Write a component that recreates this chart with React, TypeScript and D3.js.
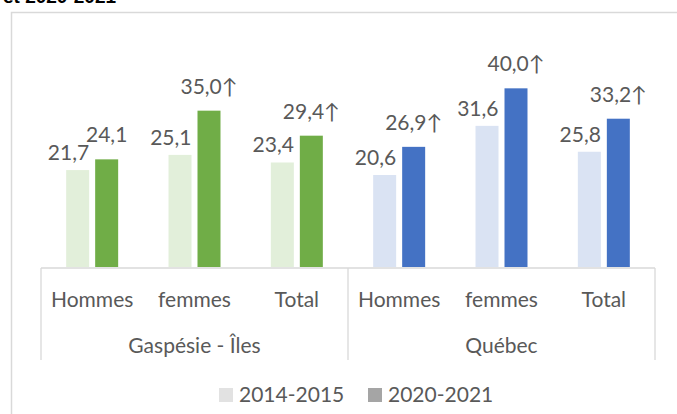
import * as d3 from "d3";

const categories = ["Hommes", "femmes", "Total"];
const groups = ["Gaspésie - Îles", "Québec"];
const seriesNames = ["2014-2015", "2020-2021"];

const gaspesie2014 = [21.7, 25.1, 23.4];
const gaspesie2020 = [24.1, 35.0, 29.4];
const quebec2014 = [20.6, 31.6, 25.8];
const quebec2020 = [26.9, 40.0, 33.2];
const gaspesieUp = [false, true, true];
const quebecUp = [true, true, true];

const WIDTH = 677;
const HEIGHT = 414;
const PLOT_LEFT = 41;
const PLOT_RIGHT = 655;
const BASELINE = 267;
const PLOT_TOP = 66;
const TEXT = "#595959";
const RULE = "#d9d9d9";
const FONT = "Lato, 'Open Sans', sans-serif";

const palette: Record<string, [string, string]> = {
  "Gaspésie - Îles": ["#e2efda", "#70ad47"],
  "Québec": ["#dae3f3", "#4472c4"],
};
const legendColors = ["#e2e2e2", "#a5a5a5"];

type Row = { group: string; category: string; key: string; before: number; after: number; up: boolean };

const rows: Row[] = [
  ...categories.map((c, i) => ({
    group: groups[0], category: c, key: `${groups[0]}|${c}`,
    before: gaspesie2014[i], after: gaspesie2020[i], up: gaspesieUp[i],
  })),
  ...categories.map((c, i) => ({
    group: groups[1], category: c, key: `${groups[1]}|${c}`,
    before: quebec2014[i], after: quebec2020[i], up: quebecUp[i],
  })),
];

const fmt = (v: number) => d3.format(".1f")(v).replace(".", ",");

export default function App() {
  const x0 = d3.scaleBand<string>().domain(rows.map((r) => r.key)).range([PLOT_LEFT, PLOT_RIGHT]);
  const x1 = d3
    .scaleBand<string>()
    .domain(seriesNames)
    .range([0, x0.bandwidth()])
    .paddingInner(0.207)
    .paddingOuter(0.868);
  const y = d3.scaleLinear().domain([0, 45]).range([BASELINE, PLOT_TOP]);
  const bw = x1.bandwidth();
  const groupWidth = x0.bandwidth() * categories.length;

  return (
    <>
      <style>{`body{margin:0}`}</style>
      <svg width={WIDTH} height={HEIGHT} style={{ display: "block", background: "#fff" }} fontFamily={FONT}>
        <text x={3} y={3} fontSize={19} fontWeight="bold" fill="#000" fontFamily="'Liberation Sans', sans-serif">
          et 2020-2021
        </text>
        <rect x={11.5} y={12.5} width={800} height={600} fill="none" stroke={RULE} strokeWidth={1.5} />

        {rows.map((r) => {
          const [light, dark] = palette[r.group];
          const xb = (x0(r.key) ?? 0) + (x1(seriesNames[0]) ?? 0);
          const xa = (x0(r.key) ?? 0) + (x1(seriesNames[1]) ?? 0);
          return (
            <g key={r.key}>
              <rect x={xb} y={y(r.before)} width={bw} height={BASELINE - y(r.before)} fill={light} />
              <rect x={xa} y={y(r.after)} width={bw} height={BASELINE - y(r.after)} fill={dark} />
              <text x={xb + bw} y={y(r.before) - 10} textAnchor="end" fontSize={21} fill={TEXT}>
                {fmt(r.before)}
              </text>
              <text x={xa + bw / 2} y={y(r.after) - 17} textAnchor="middle" fontSize={21} fill={TEXT}>
                {fmt(r.after) + (r.up ? "↑" : "")}
              </text>
            </g>
          );
        })}

        <line x1={PLOT_LEFT} x2={PLOT_RIGHT} y1={BASELINE + 1} y2={BASELINE + 1} stroke={RULE} strokeWidth={1.3} />
        {[0, 1, 2].map((i) => {
          const xx = PLOT_LEFT + i * groupWidth;
          return <line key={i} x1={xx} x2={xx} y1={BASELINE + 1} y2={360} stroke={RULE} strokeWidth={1.3} />;
        })}

        {rows.map((r) => (
          <text
            key={`lbl-${r.key}`}
            x={(x0(r.key) ?? 0) + x0.bandwidth() / 2}
            y={307}
            textAnchor="middle"
            fontSize={21}
            fill={TEXT}
          >
            {r.category}
          </text>
        ))}
        {groups.map((g, i) => (
          <text
            key={g}
            x={PLOT_LEFT + groupWidth * i + groupWidth / 2}
            y={353}
            textAnchor="middle"
            fontSize={21}
            fill={TEXT}
          >
            {g}
          </text>
        ))}

        {seriesNames.map((s, i) => {
          const lx = i === 0 ? 219 : 368;
          return (
            <g key={s}>
              <rect x={lx} y={388} width={14} height={14} fill={legendColors[i]} />
              <text x={lx + 20} y={402} fontSize={21} fill={TEXT}>
                {s}
              </text>
            </g>
          );
        })}
      </svg>
    </>
  );
}
